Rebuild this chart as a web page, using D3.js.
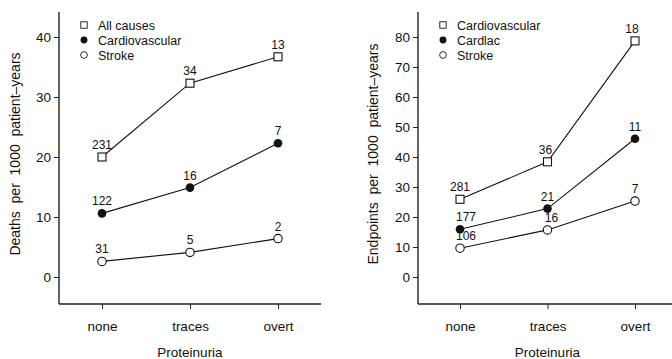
<!DOCTYPE html>
<html>
<head>
<meta charset="utf-8">
<script src="https://cdn.jsdelivr.net/npm/d3@7"></script>
<style>
  body { margin: 0; background: #fff; }
  svg { display: block; font-family: "Liberation Sans", Arial, Helvetica, sans-serif; }
  .axis path, .axis line { stroke: #222; }
  .axis text { font-size: 13.5px; fill: #111; }
</style>
</head>
<body>
<svg id="chart" width="672" height="359"></svg>
<script>
// data
const categories = ['none', 'traces', 'overt'];

const leftNames = ['All causes', 'Cardiovascular', 'Stroke'];
const leftValues = [
  [20.0, 32.3, 36.7],
  [10.6, 14.9, 22.3],
  [2.6, 4.1, 6.4]
];
const leftCounts = [
  ['231', '34', '13'],
  ['122', '16', '7'],
  ['31', '5', '2']
];
const leftTicks = [0, 10, 20, 30, 40];

const rightNames = ['Cardiovascular', 'Cardlac', 'Stroke'];
const rightValues = [
  [25.9, 38.4, 78.7],
  [15.9, 22.8, 46.1],
  [9.6, 15.7, 25.3]
];
const rightCounts = [
  ['281', '36', '18'],
  ['177', '21', '11'],
  ['106', '16', '7']
];
const rightTicks = [0, 10, 20, 30, 40, 50, 60, 70, 80];

const markers = ['square', 'dot', 'circle'];

const svg = d3.select('#chart');

const panels = [
  {
    names: leftNames, values: leftValues, counts: leftCounts, ticks: leftTicks,
    title: 'Deaths  per  1000  patient\u2013years',
    axisX: 59, xRange: [102, 278], xEnd: 321, yDomain: [0, 40], titleX: 15,
    legendX: 84, labelShift: [[0, 0, 0], [0, 0, 0], [0, 0, 0]]
  },
  {
    names: rightNames, values: rightValues, counts: rightCounts, ticks: rightTicks,
    title: 'Endpoints  per  1000  patient\u2013years',
    axisX: 418, xRange: [460, 635], xEnd: 672, yDomain: [0, 80], titleX: 373,
    legendX: 443, labelShift: [[0, -2, -3], [6, 0, 0], [6, 4, 0]]
  }
];

const Y0 = 277, YTOP = 37, AXIS_Y = 304, TOP = 12;

function drawMarker(sel, type) {
  if (type === 'square') {
    sel.append('rect')
      .attr('x', -4).attr('y', -4).attr('width', 8).attr('height', 8)
      .attr('fill', '#fff').attr('stroke', '#111').attr('stroke-width', 1.1);
  } else if (type === 'dot') {
    sel.append('circle').attr('r', 4.3).attr('fill', '#111');
  } else {
    sel.append('circle').attr('r', 4.2)
      .attr('fill', '#fff').attr('stroke', '#111').attr('stroke-width', 1.1);
  }
}

panels.forEach(p => {
  const x = d3.scalePoint().domain(categories).range(p.xRange);
  const y = d3.scaleLinear().domain(p.yDomain).range([Y0, YTOP]);
  const g = svg.append('g');

  // y axis
  const yAxis = g.append('g').attr('class', 'axis')
    .attr('transform', `translate(${p.axisX},0)`)
    .call(d3.axisLeft(y).tickValues(p.ticks).tickSize(5).tickPadding(3));
  yAxis.select('.domain').remove();
  yAxis.append('line')
    .attr('y1', TOP).attr('y2', AXIS_Y).attr('stroke', '#222').attr('stroke-width', 1.4);

  // x axis
  const xAxis = g.append('g').attr('class', 'axis')
    .attr('transform', `translate(0,${AXIS_Y})`)
    .call(d3.axisBottom(x).tickSize(5).tickPadding(12));
  xAxis.select('.domain').remove();
  xAxis.append('line')
    .attr('x1', p.axisX).attr('x2', p.xEnd).attr('stroke', '#222').attr('stroke-width', 1.4);
  xAxis.selectAll('text').attr('font-size', '13.5px');

  g.append('text')
    .attr('x', x('traces')).attr('y', 357)
    .attr('text-anchor', 'middle').attr('font-size', '13.5px').attr('fill', '#111')
    .text('Proteinuria');

  g.append('text')
    .attr('transform', `translate(${p.titleX},${154}) rotate(-90)`)
    .attr('text-anchor', 'middle').attr('dominant-baseline', 'central')
    .attr('font-size', '14px').attr('fill', '#111')
    .style('white-space', 'pre')
    .text(p.title);

  const line = d3.line().x((d, i) => x(categories[i])).y(d => y(d));

  p.values.forEach((series, s) => {
    g.append('path').datum(series)
      .attr('d', line).attr('fill', 'none').attr('stroke', '#111').attr('stroke-width', 1.1);

    series.forEach((v, i) => {
      const m = g.append('g').attr('transform', `translate(${x(categories[i])},${y(v)})`);
      drawMarker(m, markers[s]);
      g.append('text')
        .attr('x', x(categories[i]) + p.labelShift[s][i]).attr('y', y(v) - 8)
        .attr('text-anchor', 'middle').attr('font-size', '12px').attr('fill', '#111')
        .text(p.counts[s][i]);
    });
  });

  // legend
  const legend = g.append('g');
  p.names.forEach((name, s) => {
    const row = legend.append('g').attr('transform', `translate(${p.legendX},${25 + s * 15})`);
    const m = row.append('g').attr('transform', 'scale(0.8)');
    drawMarker(m, markers[s]);
    row.append('text').attr('x', 14).attr('y', 4.5)
      .attr('font-size', '12.5px').attr('fill', '#111').text(name);
  });
});
</script>
</body>
</html>
